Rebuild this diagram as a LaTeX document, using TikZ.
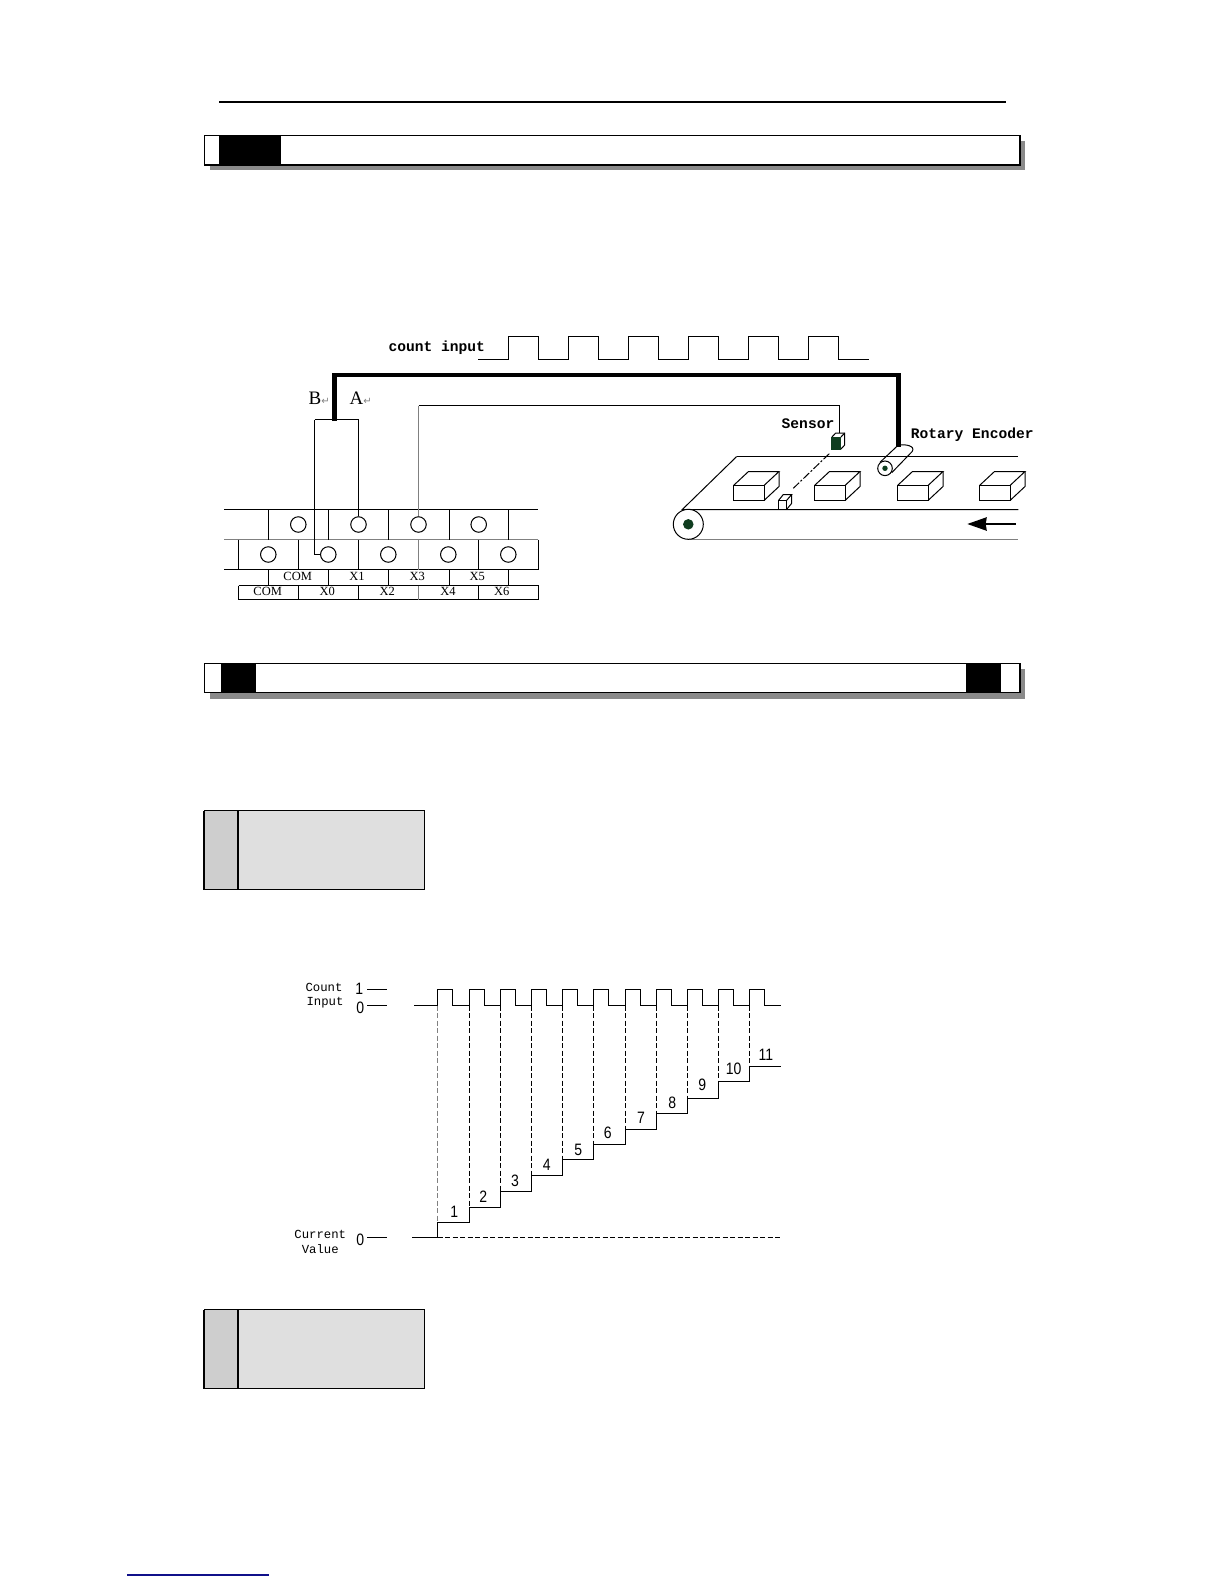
\documentclass[tikz,border=0pt]{standalone}
\usepackage{fontspec}
\setmainfont{Liberation Serif}
\newfontfamily\monofont{Liberation Mono}
\newfontfamily\digitfont{Liberation Sans}
\newfontfamily\markfont{DejaVu Sans}
\usetikzlibrary{arrows.meta}
\definecolor{shadowgray}{HTML}{8A8A8A}
\definecolor{tabgray}{HTML}{CECECE}
\definecolor{panelgray}{HTML}{DFDFDF}
\definecolor{beltgreen}{HTML}{0F3D1F}
\definecolor{linkblue}{HTML}{10108A}
\newcommand{\retmark}{\textcolor{gray}{\markfont\fontsize{10}{10}\selectfont ↵}}
\tikzset{
    wire/.style={line width=1pt},
    thinwire/.style={line width=1pt},
    graywire/.style={line width=1pt, draw=gray},
    dashwire/.style={line width=1pt, dash pattern=on 5pt off 2.5pt},
    thickwire/.style={line width=4.5pt},
    term/.style={draw, circle, line width=1pt, minimum size=15.5pt, inner sep=0pt},
    boldlabel/.style={font=\monofont\bfseries\fontsize{14.6}{16}\selectfont, inner sep=0pt},
    pinlabel/.style={font=\fontsize{12.5}{14}\selectfont, inner sep=0pt},
    axislabel/.style={font=\monofont\fontsize{12.3}{14}\selectfont, inner sep=0pt},
    numlabel/.style={font=\digitfont\fontsize{16.5}{18}\selectfont, inner sep=0pt},
    wirelabel/.style={font=\fontsize{19}{20}\selectfont, inner sep=0pt}
}

\begin{document}
\begin{tikzpicture}[x=1pt, y=-1pt]
\useasboundingbox (0,0) rectangle (1224,1584);

\draw [line width=2pt] (219,102) -- (1006,102);
\draw [line width=2pt, linkblue] (127,1575) -- (269,1575);

\fill [shadowgray] (210,141) rectangle (1025,170);
\draw [line width=1.2pt, fill=white] (204.7,135.5) rectangle (1020,165);
\fill (219,135.5) rectangle (281,165);

\fill [shadowgray] (210,669) rectangle (1025,699);
\draw [line width=1.2pt, fill=white] (204.7,663.5) rectangle (1020,692.7);
\fill (221,663.5) rectangle (256,692.7);
\fill (966,663.5) rectangle (1001,692.7);

\foreach \y in {810.5,1309.5}{
    \fill [tabgray]   (204,\y) rectangle (238.3,\y+79);
    \fill [panelgray] (238.3,\y) rectangle (424.5,\y+79);
    \draw [line width=1pt] (204,\y) rectangle (424.5,\y+79);
    \draw [line width=2pt] (204,\y) -- (204,\y+79);
    \draw [line width=2pt] (238.3,\y) -- (238.3,\y+79);
}

\node [boldlabel] (countlabel) at (436.7,348) {count input};
\draw [wire] (478,359.5) -- (508.5,359.5);
\foreach \x in {508.5,568.5,628.5,688.5,748.5,808.5}{
    \draw [wire] (\x,359.5) |- (\x+30,336.5) |- (\x+60,359.5);
}

\draw [thinwire] (224,509.5) -- (538,509.5);
\draw [graywire] (224,539.5) -- (538,539.5);
\draw [thinwire] (224,569.5) -- (538,569.5);
\draw [thinwire] (238.5,585.5) -- (538.5,585.5);
\draw [thinwire] (238.5,599.5) -- (538.5,599.5);
\foreach \x in {268.5,328.5,388.5,449.5,508.5}{
    \draw [thinwire] (\x,509.5) -- (\x,539.5);
    \draw [thinwire] (\x,569.5) -- (\x,585.5);
}
\foreach \x in {238.5,298.5,358.5,478.5,538.5}{
    \draw [thinwire] (\x,539.5) -- (\x,569.5);
    \draw [thinwire] (\x,585.5) -- (\x,599.5);
}
\draw [graywire] (418.5,539.5) -- (418.5,569.5);
\draw [graywire] (418.5,585.5) -- (418.5,599.5);

\node [term, fill=white] (t1)  at (298.3,524.5) {};
\node [term, fill=white] (tX1) at (358.5,524.5) {};
\node [term, fill=white] (tX3) at (418.5,524.5) {};
\node [term, fill=white] (t4)  at (478.7,524.5) {};
\node [term, fill=white] (t5)  at (268.3,554.5) {};
\node [term, fill=white] (tX0) at (328.3,554.5) {};
\node [term, fill=white] (t7)  at (388.3,554.5) {};
\node [term, fill=white] (t8)  at (448.3,554.5) {};
\node [term, fill=white] (t9)  at (508.3,554.5) {};

\node [pinlabel] (pcom1) at (297.7,576.3) {COM};
\node [pinlabel] (px1)   at (357,576.3)   {X1};
\node [pinlabel] (px3)   at (417.3,576.3) {X3};
\node [pinlabel] (px5)   at (477.3,576.3) {X5};
\node [pinlabel] (pcom2) at (267.7,591)   {COM};
\node [pinlabel] (px0)   at (327.3,591)   {X0};
\node [pinlabel] (px2)   at (387.3,591)   {X2};
\node [pinlabel] (px4)   at (448,591)     {X4};
\node [pinlabel] (px6)   at (501.7,591)   {X6};

\coordinate (fork)    at (334.7,419.5);
\coordinate (forkL)   at (314.5,419.5);
\coordinate (forkR)   at (358.5,419.5);
\coordinate (enctop)  at (898.5,446.7);
\coordinate (senstop) at (839.5,433);

\draw [wire] (forkL) -- (forkR) -- (tX1);
\draw [wire] (tX0.west) -- (314.5,554.5) -- (forkL);
\draw [graywire] (tX3) -- (418.5,405.5);
\draw [wire] (418.5,405.5) -| (senstop);
\draw [thickwire] (334.7,421) |- (enctop |- 0,375) -- (enctop);

\node [wirelabel, anchor=west] (labelB) at (308.5,398) {B\retmark};
\node [wirelabel, anchor=west] (labelA) at (349.5,398) {A\retmark};
\node [boldlabel]              (sensorlabel) at (808,424)    {Sensor};
\node [boldlabel, anchor=west] (encoderlabel) at (910.7,435) {Rotary Encoder};

\draw [wire] (736.7,456.5) -- (1018.3,456.5);
\draw [wire] (736.7,456.5) -- (682.3,509.5) -- (1018.3,509.5);
\draw [graywire] (688.3,539.5) -- (1018.3,539.5);
\node [draw, circle, line width=1pt, fill=white, minimum size=30pt, inner sep=0pt] (roller) at (688.3,524.3) {};
\node [circle, fill=beltgreen, minimum size=10.5pt, inner sep=0pt] (rollerhub) at (688.3,524.3) {};

\foreach \x in {733.5,814.5,897.5,979.5}{
    \draw [wire] (\x,485.5) rectangle (\x+30.5,500.5);
    \draw [wire] (\x,485.5) -- (\x+15,471.5) -- (\x+45.5,471.5) -- (\x+30.5,485.5);
    \draw [wire] (\x+45.5,471.5) -- (\x+45.5,486.5) -- (\x+30.5,500.5);
}

\draw [wire, fill=white] (778.5,500.5) rectangle (786.5,509.5);
\draw [wire] (778.5,500.5) -- (783.3,494.5) -- (791.7,494.5) -- (786.5,500.5);
\draw [wire] (791.7,494.5) -- (791.7,503.3) -- (786.5,509.5);

\draw [wire, dash pattern=on 8pt off 2pt on 2pt off 2pt] (793.3,488.3) -- (830,453);

\draw [thinwire, fill=white] (831.7,437.3) -- (835.7,433) -- (844.7,433) -- (844.7,445) -- (840.7,449.3);
\draw [thinwire] (840.7,437.3) -- (844.7,433);
\fill [beltgreen] (831.2,436.8) rectangle (841.2,449.8);

\draw [wire] (880,462.3) -- (898.3,445) .. controls (906,444) and (916,446) .. (912,451.7) -- (891.7,472.7);
\node [draw, circle, line width=1pt, fill=white, minimum size=14.6pt, inner sep=0pt] (encoder) at (885,468.3) {};
\node [circle, fill=beltgreen, minimum size=5.4pt, inner sep=0pt] (encoderhub) at (885,468.3) {};

\coordinate (movestart) at (1015.7,524);
\coordinate (moveend)   at (967.3,524);
\draw [line width=1.5pt, -{Stealth[length=19.4pt, width=13.4pt, inset=1pt]}] (movestart) -- (moveend);

\node [axislabel] (lcount)   at (324,987.3)   {Count};
\node [axislabel] (linput)   at (325,1002.7)  {Input};
\node [axislabel] (lcurrent) at (320.3,1234.3) {Current};
\node [axislabel] (lvalue)   at (320.3,1249)  {Value};
\node [numlabel, xscale=.85, transform shape] (lone)   at (359.3,989.3) {1};
\node [numlabel, xscale=.85, transform shape] (lzero)  at (360.3,1007.7) {0};
\node [numlabel, xscale=.85, transform shape] (lzerob) at (360.3,1240)  {0};
\draw [wire] (367.3,989.5) -- (386.7,989.5);
\draw [wire] (367.3,1005.5) -- (386.7,1005.5);
\draw [wire] (367.3,1237.5) -- (386.7,1237.5);

\draw [wire] (414,1005.5) -- (437.5,1005.5);
\draw [wire] (412.3,1237.5) -- (437.5,1237.5);
\draw [dashwire] (437.5,1237.5) -- (780.7,1237.5);
\foreach \x/\nx/\lvl/\prev/\col in {437.5/469.5/1222.5/1237.5/gray, 469.5/500.5/1207.5/1222.5/black, 500.5/531.5/1191.5/1207.5/black,
    531.5/562.5/1175.5/1191.5/black, 562.5/593.5/1159.5/1175.5/black, 593.5/625.5/1144.5/1159.5/black, 625.5/656.5/1129.5/1144.5/black,
    656.5/687.5/1113.5/1129.5/black, 687.5/718.5/1098.5/1113.5/black, 718.5/749.5/1081.5/1098.5/black, 749.5/780.7/1066.5/1081.5/black}{
    \draw [wire] (\x,1005.5) |- (\x+15,989.5) |- (\nx,1005.5);
    \draw [dashwire, draw=\col] (\x,1005.5) -- (\x,\lvl);
    \draw [wire] (\x,\prev) |- (\nx,\lvl);
}

\foreach \x/\y/\n in {454.3/1211.7/1, 483.3/1196.7/2, 515/1181/3, 546.7/1165/4, 578.3/1150/5, 607.7/1133.3/6,
    641/1118.3/7, 672.3/1103.3/8, 702.3/1085/9, 733.7/1069/10, 766/1055/11}{
    \node [numlabel, xscale=.85, transform shape] (step\n) at (\x,\y) {\n};
}

\end{tikzpicture}
\end{document}
